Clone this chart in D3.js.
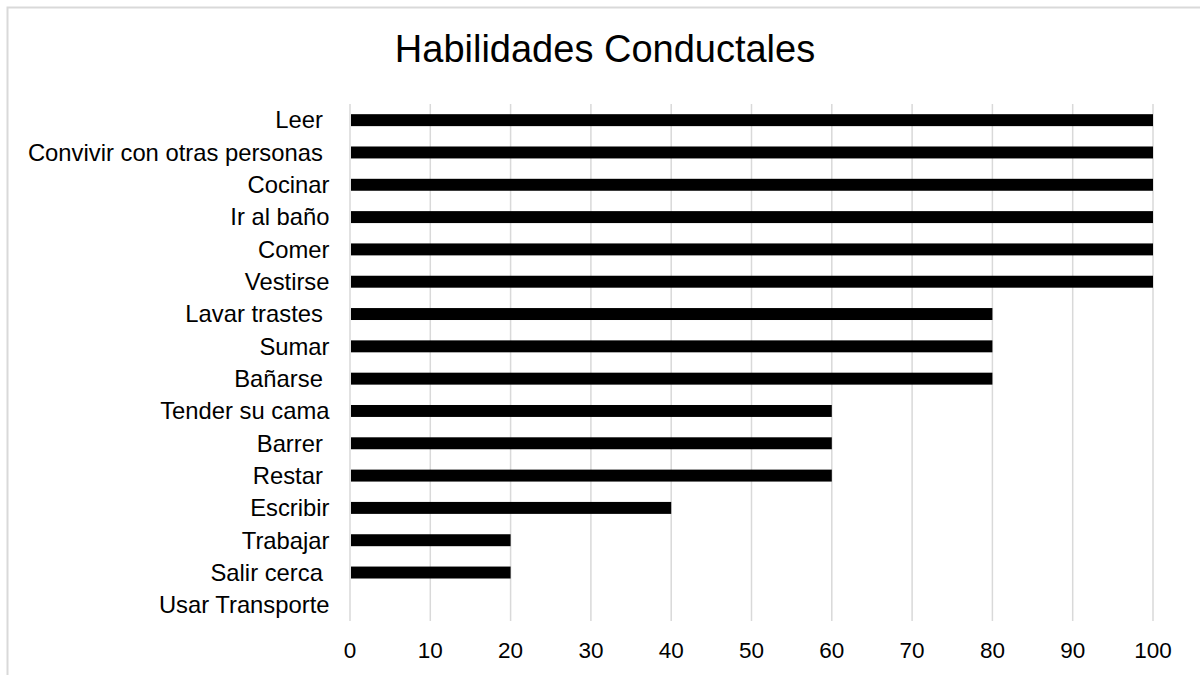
<!DOCTYPE html>
<html>
<head>
<meta charset="utf-8">
<script src="https://cdn.jsdelivr.net/npm/d3@7"></script>
<style>
  body { margin: 0; background: #fff; }
  svg { display: block; font-family: "Liberation Sans", Arial, sans-serif; }
</style>
</head>
<body>
<div id="chart"></div>
<script>
const categories = ["Leer ", "Convivir con otras personas ", "Cocinar", "Ir al baño", "Comer", "Vestirse",
  "Lavar trastes ", "Sumar", "Bañarse ", "Tender su cama", "Barrer ", "Restar ", "Escribir", "Trabajar",
  "Salir cerca ", "Usar Transporte"];
const values = [100, 100, 100, 100, 100, 100, 80, 80, 80, 60, 60, 60, 40, 20, 20, 0];
const ticks = [0, 10, 20, 30, 40, 50, 60, 70, 80, 90, 100];

const W = 1200, H = 675;
const m = { left: 350, right: 47, top: 104, bottom: 54 };

const svg = d3.select("#chart").append("svg")
    .attr("width", W)
    .attr("height", H);

// chart frame
svg.append("rect")
    .attr("x", 7.5).attr("y", 7.5)
    .attr("width", W + 20).attr("height", H + 20)
    .attr("fill", "#fff")
    .attr("stroke", "#d9d9d9")
    .attr("stroke-width", 2);

const x = d3.scaleLinear().domain([0, 100]).range([m.left, W - m.right]);
const y = d3.scaleBand().domain(categories).range([m.top, H - m.bottom]).paddingInner(0.63).paddingOuter(0.315);

// gridlines
svg.append("g").selectAll("line").data(ticks).enter()
    .append("line")
    .attr("x1", d => x(d)).attr("x2", d => x(d))
    .attr("y1", m.top).attr("y2", H - m.bottom)
    .attr("stroke", "#d9d9d9")
    .attr("stroke-width", 1.5);

// bars
svg.append("g").selectAll("rect").data(values).enter()
    .append("rect")
    .attr("x", x(0) + 1)
    .attr("y", (d, i) => y(categories[i]))
    .attr("width", d => Math.max(0, x(d) - x(0) - 1))
    .attr("height", y.bandwidth())
    .attr("fill", "#000");

// category labels
svg.append("g").selectAll("text").data(categories).enter()
    .append("text")
    .attr("x", 329.5)
    .attr("y", d => y(d) + y.bandwidth() / 2)
    .attr("dy", "0.35em")
    .attr("text-anchor", "end")
    .attr("font-size", 23.8)
    .attr("fill", "#000")
    .style("white-space", "pre")
    .text(d => d);

// x tick labels
svg.append("g").selectAll("text").data(ticks).enter()
    .append("text")
    .attr("x", d => x(d))
    .attr("y", 658)
    .attr("text-anchor", "middle")
    .attr("font-size", 22.5)
    .attr("fill", "#000")
    .text(d => d);

// title
svg.append("text")
    .attr("x", 605)
    .attr("y", 62)
    .attr("text-anchor", "middle")
    .attr("font-size", 38)
    .attr("fill", "#000")
    .text("Habilidades Conductales");
</script>
</body>
</html>
